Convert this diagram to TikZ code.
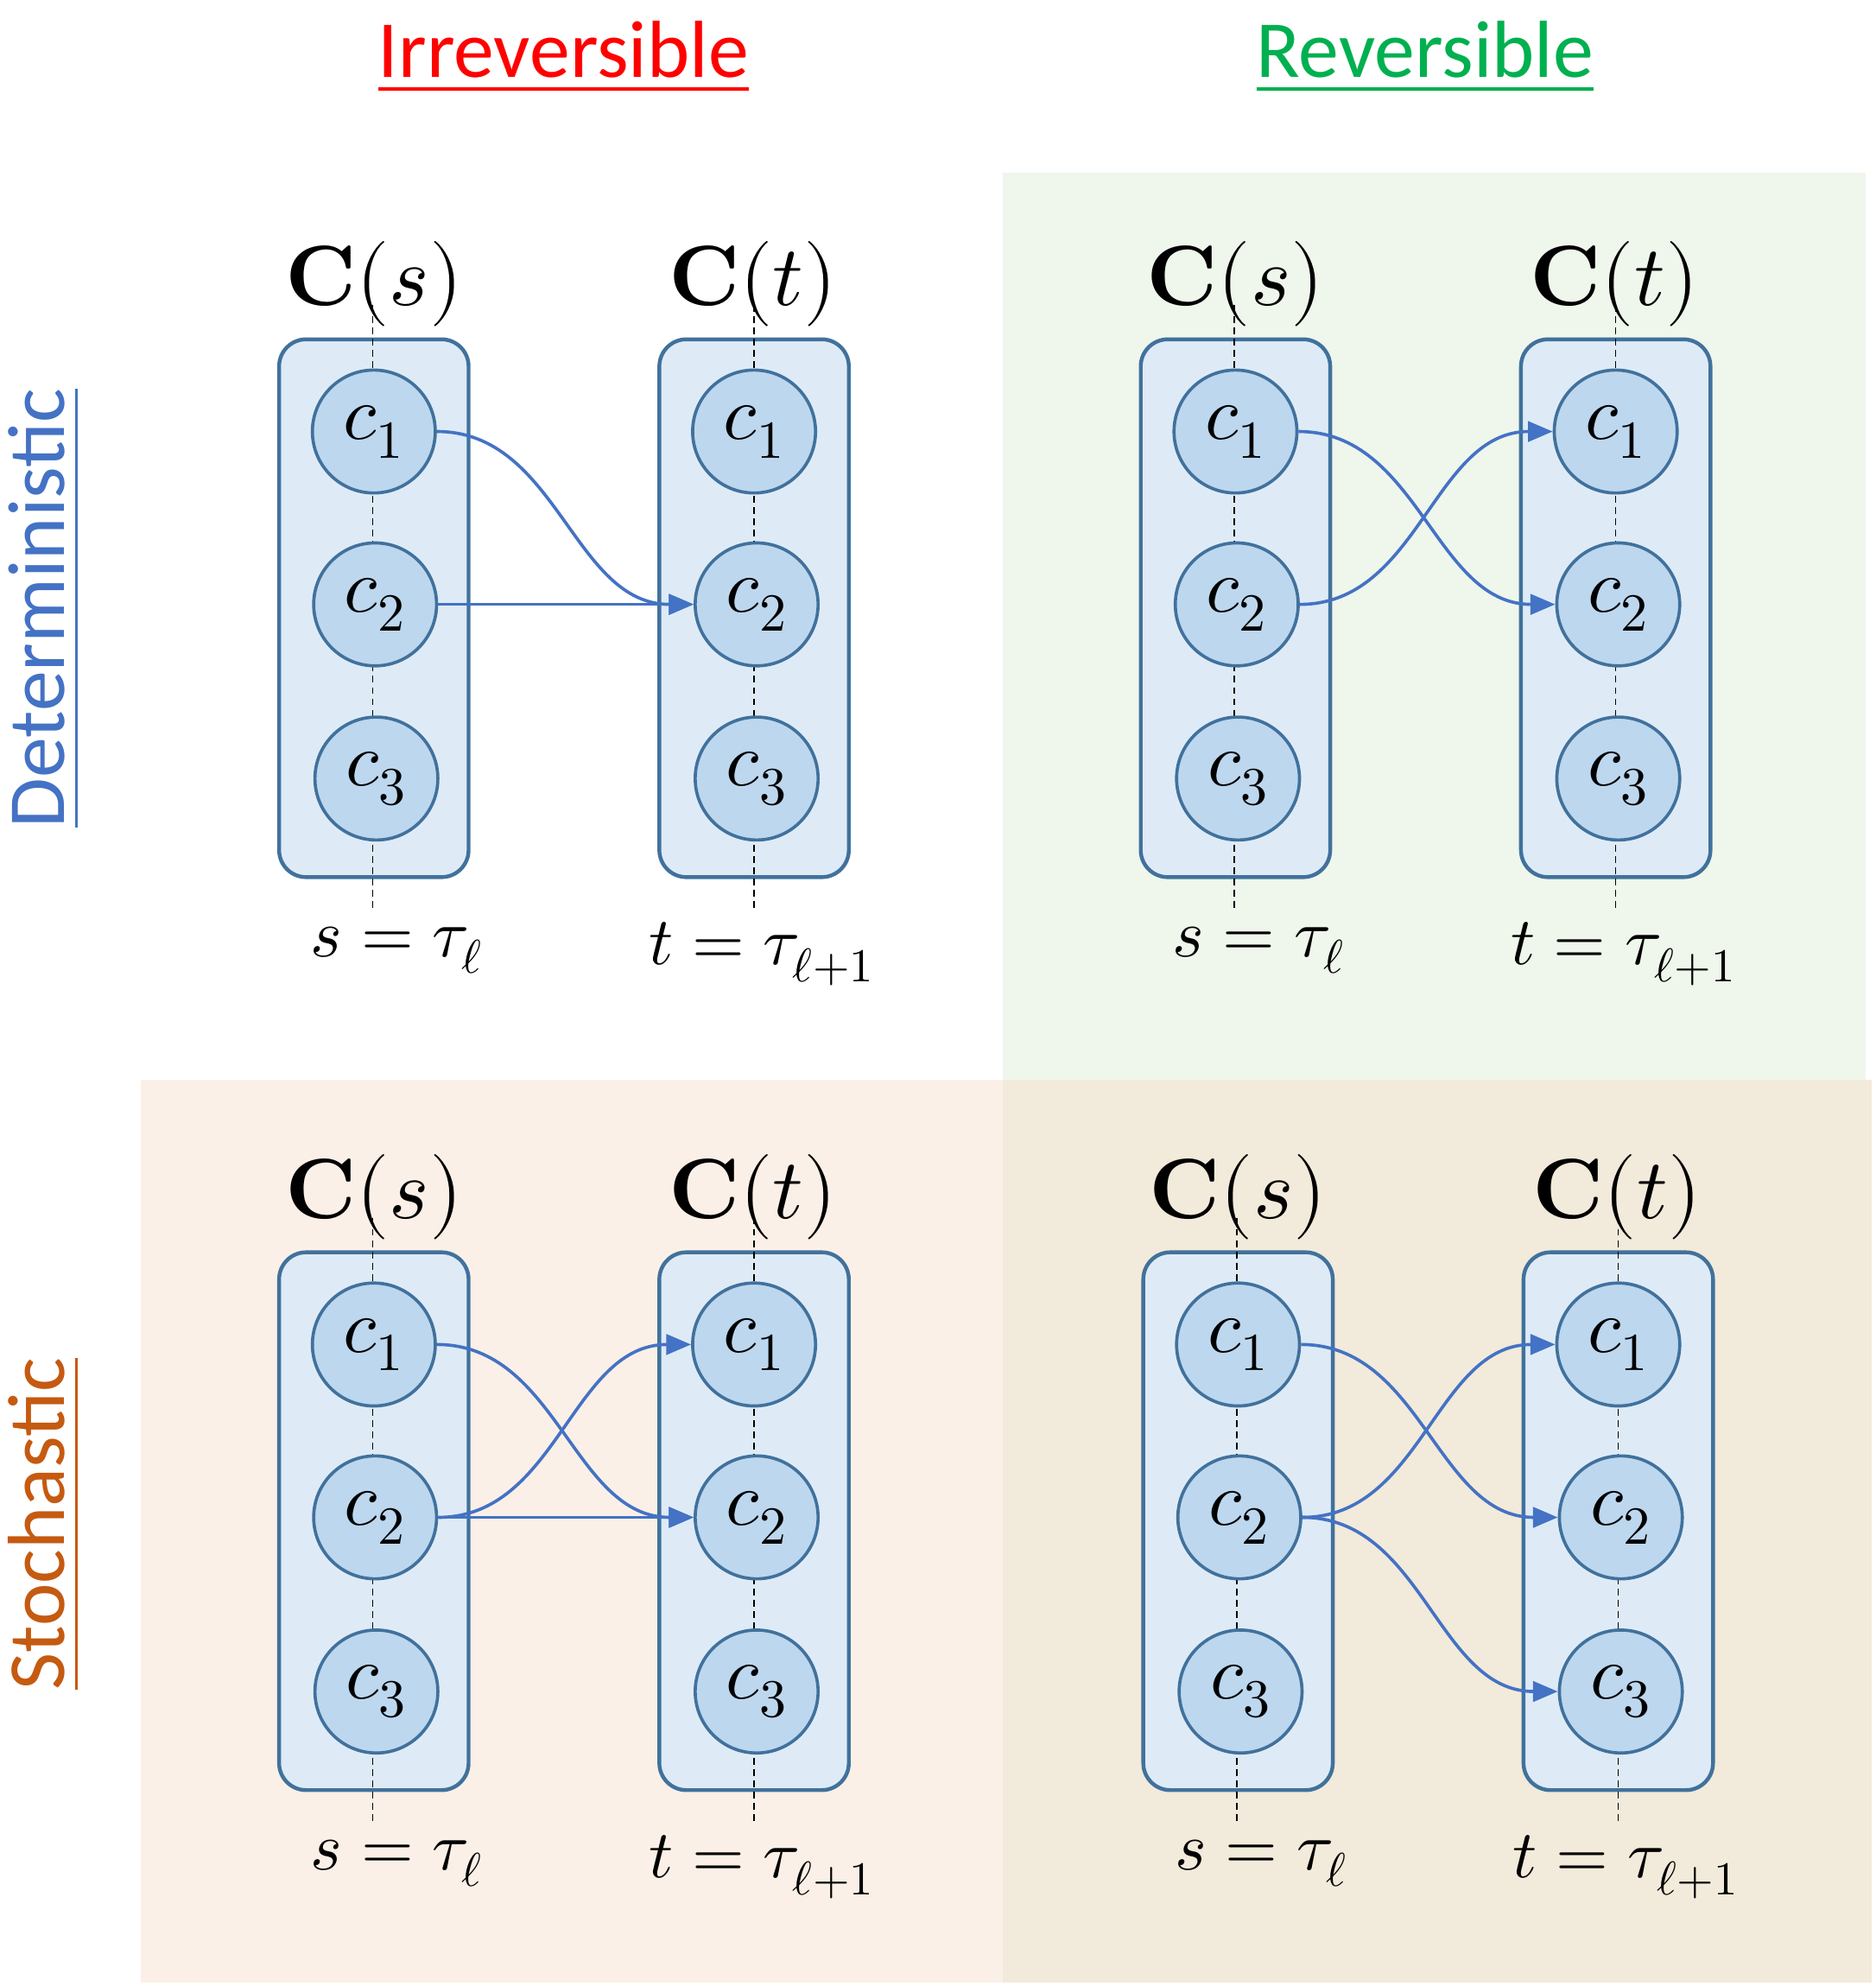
\documentclass[tikz,border=0pt]{standalone}
\usepackage{fontspec}
\usepackage{unicode-math}
\setmainfont{Carlito}
\usetikzlibrary{arrows.meta}
\definecolor{boxfill}{RGB}{222,235,247}
\definecolor{circfill}{RGB}{189,215,238}
\definecolor{edge}{RGB}{65,113,156}
\definecolor{arr}{RGB}{68,114,196}
\definecolor{qgreen}{RGB}{239,246,236}
\definecolor{qpeach}{RGB}{251,240,231}
\definecolor{qtan}{RGB}{242,234,218}
\definecolor{tred}{RGB}{255,0,0}
\definecolor{tgreen}{RGB}{0,176,80}
\definecolor{tblue}{RGB}{68,114,196}
\definecolor{torange}{RGB}{197,90,17}
\tikzset{
 box/.style={draw=edge,fill=boxfill,line width=1.7pt,rounded corners=12pt},
 circ/.style={circle,draw=edge,fill=circfill,line width=1.4pt,minimum size=96*0.02cm,inner sep=0pt,font=\fontsize{34}{40}\selectfont},
 axis/.style={black,line width=0.6pt,dash pattern=on 3pt off 2pt},
 lab/.style={font=\fontsize{38}{44}\selectfont},
 tim/.style={font=\fontsize{30}{36}\selectfont},
 con/.style={draw=arr,line width=1.4pt,-{Triangle[length=11pt,width=9pt]}},
 title/.style={font=\fontsize{36}{42}\selectfont}
}
\newcommand{\mypanel}[3]{%
 \begin{scope}[shift={(#2,#3)}]
 \draw[box] (218,265) rectangle (366,685);
 \draw[box] (515,265) rectangle (663,685);
 \coordinate (#1at) at (291,238); \coordinate (#1ab) at (291,712);
 \coordinate (#1bt) at (589,238); \coordinate (#1bb) at (589,712);
 \draw[axis] (#1at) -- (#1ab);
 \draw[axis] (#1bt) -- (#1bb);
 \node[circ] (#1s1) at (292,337) {$c_1$};
 \node[circ] (#1s2) at (293,472) {$c_2$};
 \node[circ] (#1s3) at (294,608) {$c_3$};
 \node[circ] (#1t1) at (589,337) {$c_1$};
 \node[circ] (#1t2) at (591,472) {$c_2$};
 \node[circ] (#1t3) at (591,608) {$c_3$};
 \node[lab] (#1Cs) at (292,222) {$\symbf{C}(s)$};
 \node[lab] (#1Ct) at (588,222) {$\symbf{C}(t)$};
 \node[tim] (#1ls) at (310,742) {$s=\tau_\ell$};
 \node[tim] (#1lt) at (595,745) {$t=\tau_{\ell+1}$};
 \end{scope}}
\begin{document}
\begin{tikzpicture}[x=0.02cm,y=-0.02cm]
\useasboundingbox (0,0) rectangle (1465,1551);
\fill[qgreen] (783,135) rectangle (1457,843);
\fill[qpeach] (110,843) rectangle (783,1548);
\fill[qtan] (783,843) rectangle (1462,1548);
\node[title,text=tred] (t1) at (440,45) {\underline{Irreversible}};
\node[title,text=tgreen] (t2) at (1113,45) {\underline{Reversible}};
\node[title,text=tblue,rotate=90] (t3) at (35,475) {\underline{Deterministic}};
\node[title,text=torange,rotate=90] (t4) at (35,1190) {\underline{Stochastic}};
\mypanel{A}{0}{0}
\mypanel{B}{673}{0}
\mypanel{C}{0}{713}
\mypanel{D}{675}{713}
% TL
\draw[con] (As1) to[out=0,in=180] (At2);
\draw[con] (As2) to[out=0,in=180] (At2);
% TR
\draw[con] (Bs1) to[out=0,in=180] (Bt2);
\draw[con] (Bs2) to[out=0,in=180] (Bt1);
% BL
\draw[con] (Cs1) to[out=0,in=180] (Ct2);
\draw[con] (Cs2) to[out=0,in=180] (Ct1);
\draw[con] (Cs2) to[out=0,in=180] (Ct2);
% BR
\draw[con] (Ds1) to[out=0,in=180] (Dt2);
\draw[con] (Ds2) to[out=0,in=180] (Dt1);
\draw[con] (Ds2) to[out=0,in=180] (Dt3);
\end{tikzpicture}
\end{document}
